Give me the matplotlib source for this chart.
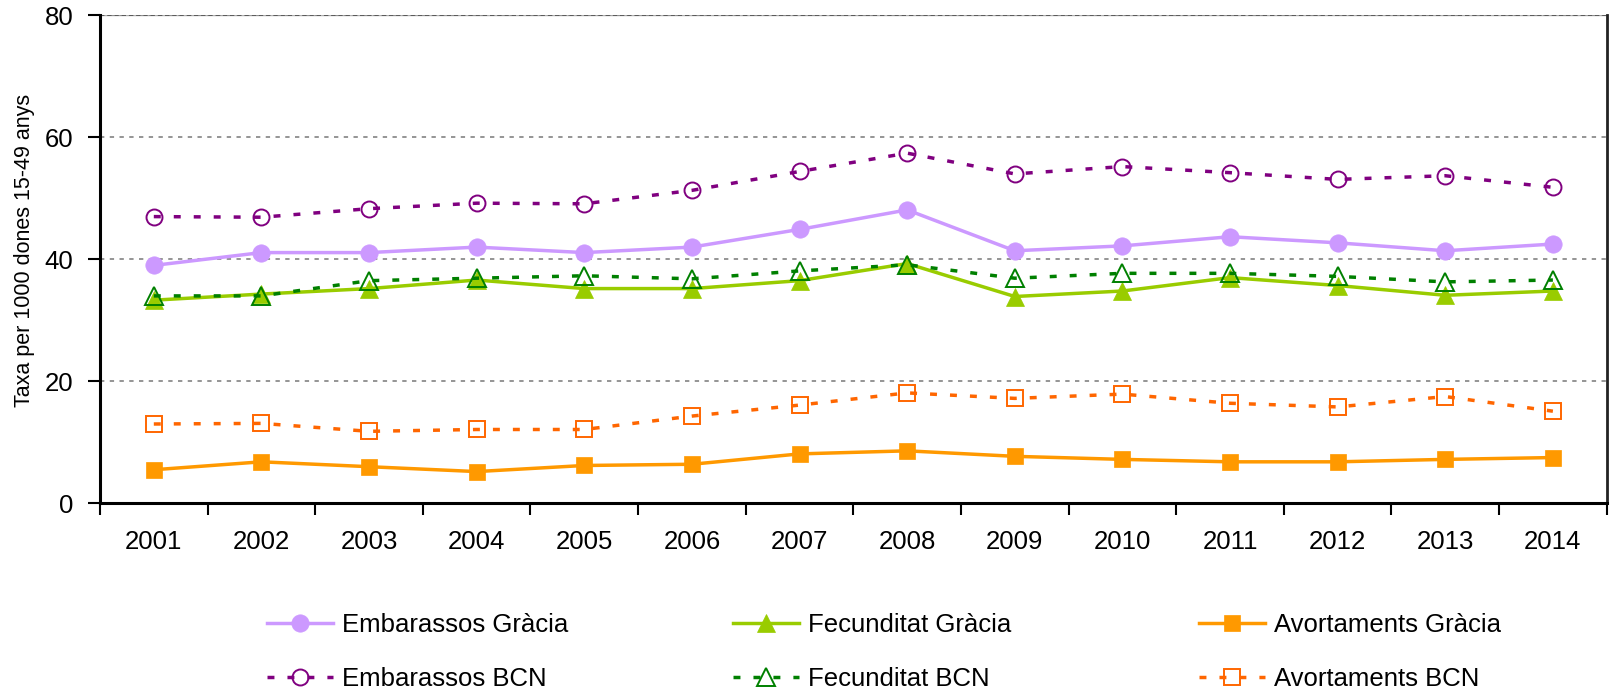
import matplotlib
matplotlib.use("Agg")
import matplotlib.pyplot as plt

plt.rcParams['font.family'] = ['Liberation Sans', 'DejaVu Sans']

years = ['2001', '2002', '2003', '2004', '2005', '2006', '2007',
         '2008', '2009', '2010', '2011', '2012', '2013', '2014']

embarassos_gracia = [39.0, 41.1, 41.1, 42.0, 41.1, 42.0, 44.9, 48.1, 41.4, 42.2, 43.7, 42.7, 41.4, 42.5]
fecunditat_gracia = [33.3, 34.3, 35.2, 36.6, 35.2, 35.2, 36.5, 39.3, 33.9, 34.8, 37.0, 35.7, 34.1, 34.8]
avortaments_gracia = [5.5, 6.8, 6.0, 5.2, 6.2, 6.4, 8.1, 8.6, 7.7, 7.2, 6.8, 6.8, 7.2, 7.5]
embarassos_bcn = [47.0, 46.9, 48.3, 49.2, 49.1, 51.3, 54.4, 57.4, 54.0, 55.2, 54.2, 53.1, 53.7, 51.8]
fecunditat_bcn = [34.0, 34.0, 36.5, 36.9, 37.3, 36.8, 38.1, 39.1, 36.9, 37.7, 37.7, 37.2, 36.3, 36.6]
avortaments_bcn = [13.0, 13.1, 11.8, 12.1, 12.1, 14.3, 16.1, 18.1, 17.2, 17.9, 16.4, 15.8, 17.5, 15.1]

labels_gracia = ['Embarassos Gràcia', 'Fecunditat Gràcia', 'Avortaments Gràcia']
labels_bcn = ['Embarassos BCN', 'Fecunditat BCN', 'Avortaments BCN']
y_ticks = [0, 20, 40, 60, 80]
y_label = 'Taxa per 1000 dones 15-49 anys'

W, H = 1614, 696
fig = plt.figure(figsize=(W / 100, H / 100), dpi=100)
ax = fig.add_axes([100 / W, 1 - 503.3 / H, (1606.7 - 100) / W, (503.3 - 15.3) / H])

x = list(range(len(years)))
lw = 2.5
bcn_dash = (2.0, 3.75)
fs = 18.5

gracia_styles = [
    dict(color='#CC99FF', marker='o', ms=12.5),
    dict(color='#99CC00', marker='^', ms=13),
    dict(color='#FF9900', marker='s', ms=11.5),
]
bcn_styles = [
    dict(color='#800080', marker='o', ms=11.5),
    dict(color='#008000', marker='^', ms=12.5),
    dict(color='#FF6600', marker='s', ms=11.5),
]

g_series = [embarassos_gracia, fecunditat_gracia, avortaments_gracia]
b_series = [embarassos_bcn, fecunditat_bcn, avortaments_bcn]

handles = []
for i in range(3):
    st = gracia_styles[i]
    hg, = ax.plot(x, g_series[i], color=st['color'], lw=lw, marker=st['marker'],
                  ms=st['ms'], mfc=st['color'], mec=st['color'], mew=0.5,
                  label=labels_gracia[i], zorder=3 + i * 0.1, clip_on=False)
    handles.append(hg)
bhandles = []
for i in range(3):
    st = bcn_styles[i]
    hb, = ax.plot(x, b_series[i], color=st['color'], lw=lw, dashes=bcn_dash,
                  marker=st['marker'], ms=st['ms'], mfc='none', mec=st['color'],
                  mew=1.4, label=labels_bcn[i], zorder=4 + i * 0.1, clip_on=False)
    bhandles.append(hb)

ax.set_xlim(-0.5, len(years) - 0.5)
ax.set_ylim(0, 80)

# y axis
ax.set_yticks(y_ticks)
ax.set_yticklabels([str(v) for v in y_ticks], fontsize=fs)
ax.tick_params(axis='y', direction='out', length=9, width=1.5, pad=10)

# x axis: ticks at category boundaries, labels at centers
ax.set_xticks([i - 0.5 for i in range(len(years) + 1)])
ax.set_xticklabels([])
ax.set_xticks(x, minor=True)
ax.set_xticklabels(years, minor=True, fontsize=fs)
ax.tick_params(axis='x', which='major', direction='out', length=8.5, width=1.5)
ax.tick_params(axis='x', which='minor', length=0, pad=19)

# grid
for v in y_ticks[1:]:
    ax.axhline(v, color='#8c8c8c', lw=1.3, dashes=(2.4, 3.0), zorder=1)

for side in ['left', 'bottom']:
    ax.spines[side].set_color('black')
    ax.spines[side].set_linewidth(2.2)
ax.spines['right'].set_color('#222222')
ax.spines['right'].set_linewidth(2)
ax.spines['top'].set_visible(False)
ax.axhline(80, color='#b0b0b0', lw=1.0, zorder=0.9)
ax.axhline(80, color='#555555', lw=1.3, dashes=(2.4, 1.6), zorder=1.1)

fig.text(25 / W, 1 - 250 / H, y_label, rotation=90, ha='center', va='center', fontsize=15.5)

# legends: one per column
col_x = [267, 733, 1199]
for i in range(3):
    fig.legend([handles[i], bhandles[i]], [labels_gracia[i], labels_bcn[i]],
               loc='center left', bbox_to_anchor=(col_x[i] / W, 1 - 652 / H),
               frameon=False, fontsize=fs, handlelength=2.55, handletextpad=0.36,
               labelspacing=1.2, borderpad=0, borderaxespad=0, numpoints=1)

fig.savefig('out.png', dpi=100)
